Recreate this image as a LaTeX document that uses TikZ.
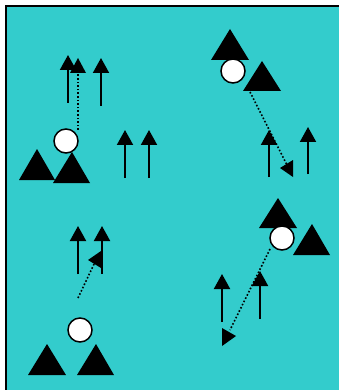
\documentclass[tikz,border=0pt]{standalone}
\usetikzlibrary{arrows.meta}
\definecolor{bgcyan}{HTML}{33CCCC}
\tikzset{
  upar/.style={draw=black,line width=2pt,-{Triangle[width=16pt,length=15pt]}},
  dots/.style={draw=black,line width=1.6pt,dotted,line cap=butt},
  ball/.style={circle,draw=black,fill=white,line width=1.5pt,minimum size=24pt,inner sep=0pt},
  tri/.style={fill=black},
}
\begin{document}
\begin{tikzpicture}[x=1pt,y=-1pt]
\useasboundingbox (0,0) rectangle (338,390);
\fill[white] (0,0) rectangle (338,390);
\filldraw[fill=bgcyan,draw=black,line width=2pt] (6,6) rectangle (345,400);

% ---------- quadrant 1 ----------
\coordinate (a1s) at (68,103); \coordinate (a1e) at (68,55);
\draw[upar] (a1s) -- (a1e);
\coordinate (c1s) at (101,106); \coordinate (c1e) at (101,58);
\draw[upar] (c1s) -- (c1e);
\coordinate (d1s) at (78,130); \coordinate (d1m) at (78,73); \coordinate (d1e) at (78,58);
\draw[dots] (d1s) -- (d1m);
\fill (70,73) -- (d1e) -- (86,73) -- cycle;
\node[ball] (b1) at (66,141) {};
\fill[tri] (19,180) -- (37,149) -- (55,180) -- cycle;
\fill[tri] (53,183) -- (72,152) -- (90,183) -- cycle;
\coordinate (e1s) at (125,178); \coordinate (e1e) at (125,130);
\draw[upar] (e1s) -- (e1e);
\coordinate (f1s) at (149,178); \coordinate (f1e) at (149,130);
\draw[upar] (f1s) -- (f1e);

% ---------- quadrant 2 ----------
\fill[tri] (211,60) -- (230,29) -- (249,60) -- cycle;
\node[ball] (b2) at (233,71) {};
\fill[tri] (243,91) -- (262,61) -- (281,91) -- cycle;
\coordinate (d2s) at (250,92); \coordinate (d2e) at (287,165);
\draw[dots] (d2s) -- (d2e);
\fill (280,168) -- (293,160) -- (293,177) -- cycle;
\coordinate (e2s) at (269,177); \coordinate (e2e) at (269,130);
\draw[upar] (e2s) -- (e2e);
\coordinate (f2s) at (308,174); \coordinate (f2e) at (308,127);
\draw[upar] (f2s) -- (f2e);

% ---------- quadrant 3 ----------
\coordinate (a3s) at (78,274); \coordinate (a3e) at (78,226);
\draw[upar] (a3s) -- (a3e);
\coordinate (c3s) at (102,274); \coordinate (c3e) at (102,226);
\draw[upar] (c3s) -- (c3e);
\coordinate (d3s) at (78,298); \coordinate (d3e) at (95,262);
\draw[dots] (d3s) -- (d3e);
\fill (88,260) -- (101,251) -- (101,268) -- cycle;
\node[ball] (b3) at (80,330) {};
\fill[tri] (28,375) -- (47,344) -- (66,375) -- cycle;
\fill[tri] (77,375) -- (96,344) -- (114,375) -- cycle;

% ---------- quadrant 4 ----------
\fill[tri] (259,228) -- (278,198) -- (297,228) -- cycle;
\node[ball] (b4) at (282,238) {};
\fill[tri] (293,255) -- (312,224) -- (330,255) -- cycle;
\coordinate (a4s) at (222,322); \coordinate (a4e) at (222,274);
\draw[upar] (a4s) -- (a4e);
\coordinate (c4s) at (260,319); \coordinate (c4e) at (260,271);
\draw[upar] (c4s) -- (c4e);
\coordinate (d4s) at (270,249); \coordinate (d4e) at (230,330);
\draw[dots] (d4s) -- (d4e);
\fill (222,328) -- (222,346) -- (236,336) -- cycle;
\end{tikzpicture}
\end{document}
